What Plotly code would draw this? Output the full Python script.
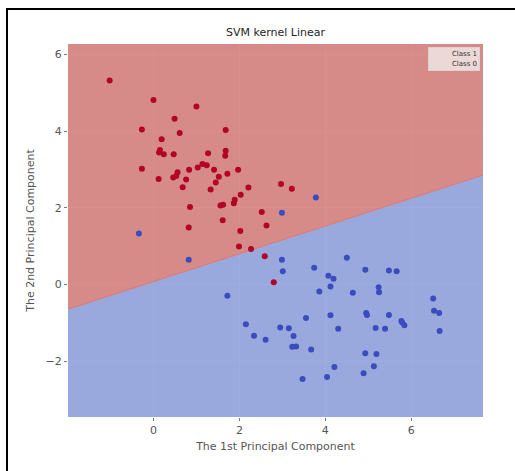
import plotly.graph_objects as go

# Projected samples on the first two principal components
class1_x = [-1.02, 0.00, 1.00, 0.49, -0.27, 1.68, 0.61, 0.19, 0.15, 0.13, 0.24, 0.47,
            1.27, 1.68, 1.67, -0.27, 1.14, 1.24, 1.03, 0.83, 1.41, 1.97, 0.56, 0.53,
            0.46, 0.12, 0.76, 1.72, 1.52, 1.45, 0.68, 1.33, 2.21, 2.97, 2.03, 1.89,
            1.87, 1.62, 1.56, 0.85, 2.52, 1.61, 2.63, 0.82, 2.02, 3.22, 1.99, 2.27,
            2.59, 2.80]
class1_y = [5.32, 4.81, 4.64, 4.32, 4.04, 4.03, 3.95, 3.79, 3.51, 3.44, 3.40, 3.40,
            3.42, 3.49, 3.36, 3.02, 3.14, 3.11, 3.05, 2.99, 2.99, 2.99, 2.93, 2.83,
            2.79, 2.75, 2.74, 2.89, 2.81, 2.66, 2.54, 2.48, 2.53, 2.62, 2.34, 2.21,
            2.12, 2.08, 2.06, 2.02, 1.89, 1.68, 1.54, 1.49, 1.40, 2.50, 0.99, 0.93,
            0.74, 0.06]

class0_x = [-0.34, 3.78, 2.99, 0.82, 1.72, 2.15, 2.34, 2.61, 2.95, 2.99, 3.01, 3.74,
            4.50, 4.07, 4.19, 4.12, 3.86, 4.64, 4.93, 5.48, 5.66, 5.24, 5.25, 6.51,
            6.53, 6.65, 6.66, 4.95, 4.97, 5.48, 4.12, 3.55, 3.15, 4.30, 5.17, 5.39,
            5.77, 5.79, 5.84, 3.26, 3.23, 3.32, 3.67, 4.93, 5.19, 5.13, 4.21, 4.89,
            4.04, 3.47]
class0_y = [1.33, 2.27, 1.87, 0.65, -0.29, -1.03, -1.33, -1.44, -1.12, 0.65, 0.35, 0.44,
            0.70, 0.23, 0.15, -0.05, -0.18, -0.21, 0.39, 0.37, 0.35, -0.07, -0.20, -0.36,
            -0.68, -0.74, -1.21, -0.74, -0.79, -0.79, -0.80, -0.87, -1.14, -1.15, -1.13, -1.15,
            -0.95, -0.99, -1.06, -1.34, -1.62, -1.61, -1.69, -1.79, -1.81, -2.13, -2.15, -2.31,
            -2.41, -2.46]

# Linear SVM decision boundary: y = slope * x + intercept
boundary_slope = 0.362
boundary_intercept = 0.08

x_range = [-1.99, 7.67]
y_range = [-3.45, 6.27]

legend_labels = ["Class 1", "Class 0"]

W, H = 515, 471
M = dict(l=68, r=32, t=44, b=54)

x0, x1 = x_range
y0, y1 = y_range
yl = boundary_slope * x0 + boundary_intercept
yr = boundary_slope * x1 + boundary_intercept

fig = go.Figure()

# decision regions
fig.add_trace(go.Scatter(
    x=[x0, x1, x1, x0, x0], y=[yl, yr, y1, y1, yl],
    fill="toself", fillcolor="rgba(210,115,110,0.8)",
    line=dict(width=0), mode="lines", hoverinfo="skip", showlegend=False))
fig.add_trace(go.Scatter(
    x=[x0, x1, x1, x0, x0], y=[y0, y0, yr, yl, y0],
    fill="toself", fillcolor="rgba(132,152,216,0.8)",
    line=dict(width=0), mode="lines", hoverinfo="skip", showlegend=False))
fig.add_trace(go.Scatter(
    x=[x0, x1], y=[yl, yr], mode="lines",
    line=dict(color="rgba(228,110,100,0.9)", width=1),
    hoverinfo="skip", showlegend=False))

fig.add_trace(go.Scatter(
    x=class1_x, y=class1_y, mode="markers", name=legend_labels[0],
    marker=dict(color="#b40426", size=6), showlegend=False))
fig.add_trace(go.Scatter(
    x=class0_x, y=class0_y, mode="markers", name=legend_labels[1],
    marker=dict(color="#3b4cc0", size=6), showlegend=False))

axis_common = dict(
    showgrid=True, gridcolor="white", gridwidth=1, zeroline=False,
    showline=False, ticks="outside", ticklen=3, tickcolor="#777",
    tickfont=dict(family="DejaVu Sans", size=11, color="#555"),
    dtick=2, tick0=0,
)

fig.update_layout(
    width=W, height=H, margin=M,
    paper_bgcolor="white", plot_bgcolor="#EAEAF2",
    title=dict(text="SVM kernel Linear", x=0.5, xref="paper", xanchor="center",
               y=1 - 32 / H, yanchor="middle",
               font=dict(family="DejaVu Sans", size=11, color="#262626")),
    xaxis=dict(range=x_range, title=dict(text="The 1st Principal Component",
               font=dict(family="DejaVu Sans", size=11, color="#555"), standoff=6),
               **axis_common),
    yaxis=dict(range=y_range, title=dict(text="The 2nd Principal Component",
               font=dict(family="DejaVu Sans", size=11, color="#555"), standoff=8),
               **axis_common),
    showlegend=False,
)

# legend box with the class labels (empty handle area on the left)
fig.add_annotation(
    text="<br>".join(legend_labels), xref="paper", yref="paper",
    x=0.993, y=0.992, xanchor="right", yanchor="top", align="right",
    width=46, height=18,
    showarrow=False, bgcolor="rgba(240,236,236,0.8)",
    bordercolor="rgba(215,215,215,0.9)", borderwidth=1, borderpad=2,
    font=dict(family="DejaVu Sans", size=7, color="#333"),
)

# frame around the figure (left and top edges)
pw = W - M["l"] - M["r"]
ph = H - M["t"] - M["b"]
def px_to_paper_x(px):
    return (px - M["l"]) / pw
def px_to_paper_y(py):
    return (H - M["b"] - py) / ph

fig.add_shape(type="line", xref="paper", yref="paper",
              x0=px_to_paper_x(7), x1=px_to_paper_x(7),
              y0=px_to_paper_y(8), y1=px_to_paper_y(H + 2),
              line=dict(color="black", width=2))
fig.add_shape(type="line", xref="paper", yref="paper",
              x0=px_to_paper_x(6), x1=px_to_paper_x(W + 2),
              y0=px_to_paper_y(9), y1=px_to_paper_y(9),
              line=dict(color="black", width=2))

fig.write_html("out.html")
